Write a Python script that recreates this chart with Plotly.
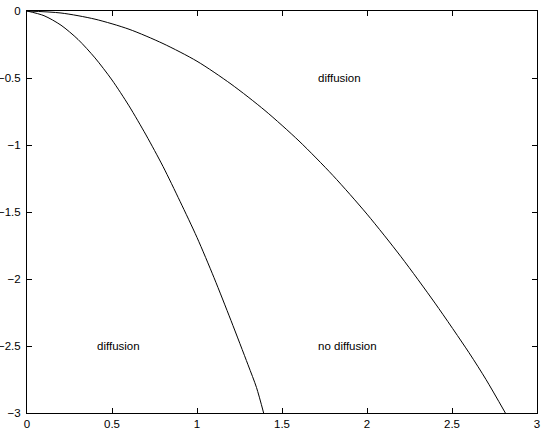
import plotly.graph_objects as go

# curve values
x_fast = [0, 0.1, 0.2, 0.3, 0.4, 0.5, 0.6, 0.7, 0.8, 0.9, 1.0, 1.1, 1.2, 1.3, 1.35, 1.392]
y_fast = [0, -0.035, -0.106, -0.212, -0.35, -0.515, -0.708, -0.925, -1.16, -1.42, -1.69,
          -1.99, -2.31, -2.64, -2.81, -3.0]

x_slow = [0, 0.2, 0.4, 0.6, 0.8, 1.0, 1.2, 1.4, 1.6, 1.8, 2.0, 2.2, 2.4, 2.6, 2.7, 2.814]
y_slow = [0, -0.015, -0.061, -0.136, -0.243, -0.375, -0.545, -0.743, -0.97, -1.228, -1.516,
          -1.834, -2.18, -2.55, -2.75, -3.0]

labels = ["diffusion", "diffusion", "no diffusion"]
label_x = [1.7, 0.4, 1.7]
label_y = [-0.5, -2.5, -2.5]

x_ticks = [0, 0.5, 1, 1.5, 2, 2.5, 3]
y_ticks = [-3, -2.5, -2, -1.5, -1, -0.5, 0]

font_family = "Liberation Sans, Arial, Helvetica, sans-serif"

fig = go.Figure()
fig.add_trace(go.Scatter(x=x_fast, y=y_fast, mode="lines", line_shape="spline",
                         line=dict(color="black", width=1, smoothing=0.8), showlegend=False))
fig.add_trace(go.Scatter(x=x_slow, y=y_slow, mode="lines", line_shape="spline",
                         line=dict(color="black", width=1, smoothing=0.8), showlegend=False))

for t, xx, yy in zip(labels, label_x, label_y):
    fig.add_annotation(x=xx, y=yy, text=t, showarrow=False, xanchor="left", yanchor="middle",
                       font=dict(family=font_family, size=11.5, color="black"))

axis_common = dict(showgrid=False, zeroline=False, showline=True, linecolor="black", linewidth=1,
                   mirror="ticks", ticks="inside", ticklen=5, tickcolor="black", tickwidth=1,
                   tickfont=dict(family=font_family, size=11.5, color="black"), automargin=False)

fig.update_xaxes(range=[0, 3], tickvals=x_ticks, ticktext=[f"{v:g}" for v in x_ticks], **axis_common)
fig.update_yaxes(range=[-3, 0], tickvals=y_ticks,
                 ticktext=[("\u2212" + f"{-v:g}") if v < 0 else f"{v:g}" for v in y_ticks],
                 ticklabelstandoff=3, **axis_common)

fig.update_layout(width=545, height=428, autosize=False,
                  margin=dict(l=27, r=8, t=11, b=15, pad=0),
                  plot_bgcolor="white", paper_bgcolor="white")

fig.write_html("out.html", config={"displayModeBar": False},
               post_script="document.body.style.margin='0';document.body.style.padding='0';")
